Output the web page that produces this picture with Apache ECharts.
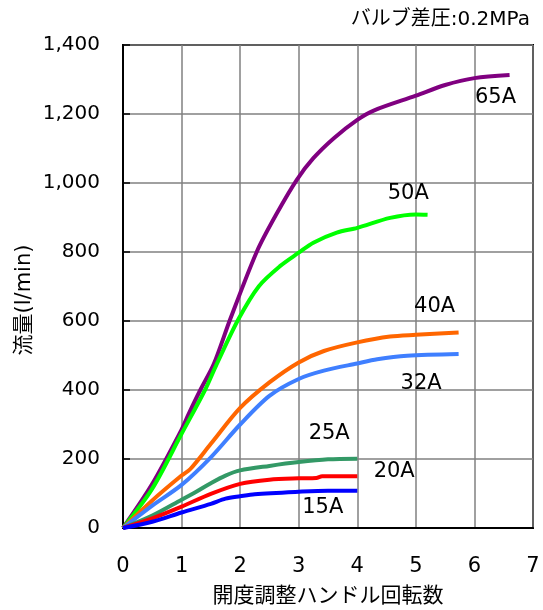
<!DOCTYPE html>
<html>
<head>
<meta charset="utf-8">
<script src="https://cdn.jsdelivr.net/npm/echarts@6/dist/echarts.min.js"></script>
<style>
  html, body { margin: 0; padding: 0; background: #fff; }
  #chart { width: 543px; height: 610px; }
</style>
</head>
<body>
<div id="chart"></div>
<script>
// Flow rate vs. number of turns of the opening-adjustment handle, per valve size
const seriesNames = ['65A', '50A', '40A', '32A', '25A', '20A', '15A'];

// [handle turns, flow l/min]
const flow65A = [[0,0],[0.5,128],[1,285],[1.12,330],[1.32,400],[1.55,475],[1.83,605],[2.29,803],[2.63,913],[2.97,1010],[3.25,1072],[3.6,1130],[4.0,1183],[4.28,1210],[5.0,1253],[5.5,1284],[6.0,1304],[6.6,1313]];
const flow50A = [[0,0],[0.5,114],[1,273],[1.4,400],[1.6,475],[1.97,605],[2.32,701],[2.68,759],[3.0,798],[3.25,827],[3.65,856],[4.0,870],[4.56,899],[5.0,909],[5.2,908]];
const flow40A = [[0,0],[0.5,80],[1,152],[1.15,171],[1.5,244],[2,348],[2.5,422],[3,480],[3.43,513],[4,538],[4.56,555],[5,560],[5.73,567]];
const flow32A = [[0,0],[0.5,65],[1,125],[1.5,205],[2,300],[2.5,383],[3,432],[3.43,456],[4,477],[4.34,489],[4.85,499],[5.73,504]];
const flow25A = [[0,0],[0.5,36],[1,82],[1.25,105],[1.5,130],[1.75,152],[2,167],[2.5,180],[3,191],[3.5,199],[4,201]];
const flow20A = [[0,0],[0.5,28],[1,62],[1.5,99],[2,128],[2.5,140],[3,144],[3.3,145],[3.4,150],[4,150]];
const flow15A = [[0,0],[0.5,18],[1,45],[1.5,70],[1.75,85],[2,92],[2.25,98],[3,105],[3.5,108],[4,108]];

// where each size's name sits, in axis units
const nameAnchors = [[6.36,1247],[4.87,969],[5.32,641],[5.09,419],[3.52,273],[4.63,164],[3.41,58]];

const xTicks = [0, 1, 2, 3, 4, 5, 6, 7];
const yTicks = [0, 200, 400, 600, 800, 1000, 1200, 1400];

const allFlows = [flow65A, flow50A, flow40A, flow32A, flow25A, flow20A, flow15A];
const lineColors = ['#800080', '#00ff00', '#ff6600', '#3f7fff', '#339966', '#ff0000', '#0000ff'];

const numFont = 'DejaVu Sans, Liberation Sans, sans-serif';
const jpFont = 'Noto Sans CJK JP, sans-serif';
const mixFont = 'DejaVu Sans, Noto Sans CJK JP, sans-serif';

const chart = echarts.init(document.getElementById('chart'), null, { renderer: 'canvas' });

const series = allFlows.map((pts, i) => ({
  name: seriesNames[i],
  type: 'line',
  data: pts,
  showSymbol: false,
  smooth: 0.3,
  lineStyle: { color: lineColors[i], width: 4 },
  itemStyle: { color: lineColors[i] },
  z: 3 + i,
  silent: true,
  markPoint: {
    symbol: 'circle',
    symbolSize: 0,
    silent: true,
    data: [{ coord: nameAnchors[i], value: seriesNames[i] }],
    label: {
      show: true,
      position: 'inside',
      formatter: seriesNames[i],
      color: '#000',
      fontSize: 21,
      fontFamily: numFont
    }
  }
}));

chart.setOption({
  animation: false,
  backgroundColor: '#fff',
  grid: {
    left: 123, top: 45, width: 410, height: 485,
    show: true, borderColor: '#000', borderWidth: 2, backgroundColor: 'transparent'
  },
  xAxis: {
    type: 'value',
    min: xTicks[0], max: xTicks[xTicks.length - 1], interval: 1,
    name: '開度調整ハンドル回転数',
    nameLocation: 'middle',
    nameGap: 56,
    nameTextStyle: { fontSize: 21, color: '#000', fontFamily: jpFont },
    axisLine: { lineStyle: { color: '#000', width: 2 } },
    axisTick: { show: false },
    axisLabel: { fontSize: 21, color: '#000', margin: 28, fontFamily: numFont },
    splitLine: { lineStyle: { color: '#808080', width: 1.5 } }
  },
  yAxis: {
    type: 'value',
    min: yTicks[0], max: yTicks[yTicks.length - 1], interval: 200,
    axisLine: { show: true, lineStyle: { color: '#000', width: 2 } },
    axisTick: { show: true, inside: true, length: 7, lineStyle: { color: '#000', width: 1.5 } },
    axisLabel: {
      fontSize: 20, color: '#000', margin: 23, fontFamily: numFont,
      formatter: v => v.toLocaleString('en-US')
    },
    splitLine: { lineStyle: { color: '#808080', width: 1.5 } }
  },
  graphic: [
    {
      type: 'text', x: 25, y: 300, rotation: Math.PI / 2,
      style: {
        text: '流量(l/min)', fill: '#000', font: '21px ' + mixFont,
        align: 'center', verticalAlign: 'middle'
      }
    },
    {
      type: 'text', x: 530, y: 20,
      style: {
        text: 'バルブ差圧:0.2MPa', fill: '#000', font: '20px ' + mixFont,
        align: 'right', verticalAlign: 'middle'
      }
    }
  ],
  series: series
});
</script>
</body>
</html>
